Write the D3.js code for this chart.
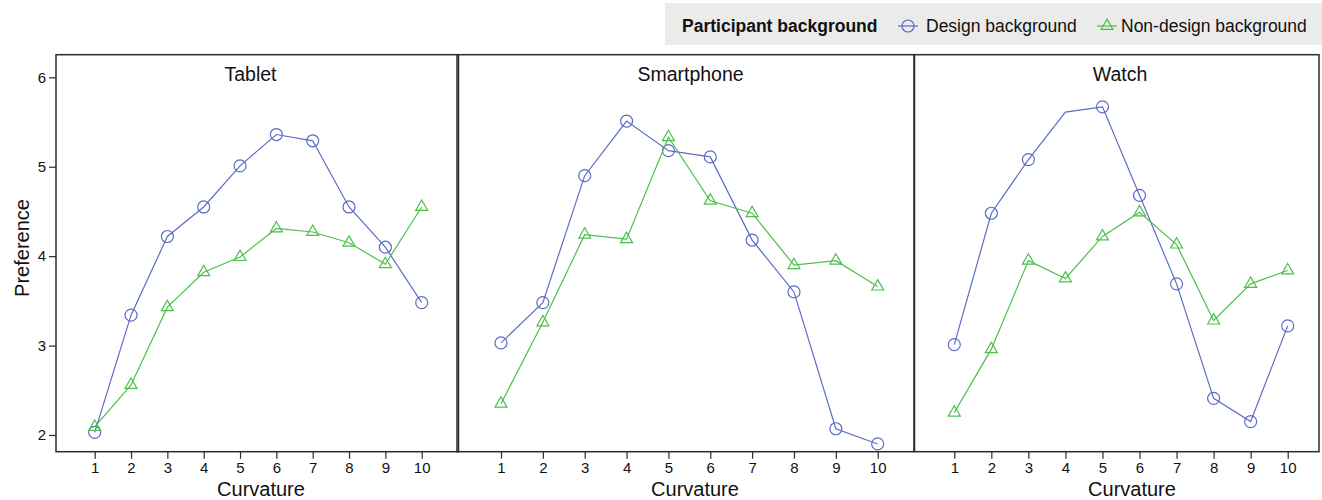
<!DOCTYPE html>
<html>
<head>
<meta charset="utf-8">
<script src="https://cdn.jsdelivr.net/npm/d3@7"></script>
<style>
  body { margin: 0; background: #fff; }
  svg { display: block; font-family: "Liberation Sans", Arial, sans-serif; }
</style>
</head>
<body>
<div id="chart"></div>
<script>
// data
const curvature = [1, 2, 3, 4, 5, 6, 7, 8, 9, 10];
const devices = ["Tablet", "Smartphone", "Watch"];
const yTicks = [2, 3, 4, 5, 6];

const tabletDesign    = [2.03, 3.34, 4.22, 4.55, 5.01, 5.36, 5.29, 4.55, 4.10, 3.48];
const tabletNonDesign = [2.09, 2.56, 3.43, 3.82, 3.99, 4.31, 4.27, 4.15, 3.91, 4.55];
const phoneDesign     = [3.03, 3.48, 4.90, 5.51, 5.18, 5.11, 4.18, 3.60, 2.07, 1.90];
const phoneNonDesign  = [2.35, 3.26, 4.24, 4.19, 5.33, 4.62, 4.48, 3.90, 3.95, 3.66];
const watchDesign     = [3.01, 4.48, 5.08, 5.61, 5.67, 4.68, 3.69, 2.41, 2.15, 3.22];
const watchNonDesign  = [2.25, 2.96, 3.95, 3.75, 4.22, 4.49, 4.13, 3.28, 3.69, 3.84];

// the reference has no marker on this point
const hiddenMarkers = [{ device: "Watch", series: "design", curvature: 4 }];

const seriesNames = ["Design background", "Non-design background"];
const values = {
  Tablet: { design: tabletDesign, nondesign: tabletNonDesign },
  Smartphone: { design: phoneDesign, nondesign: phoneNonDesign },
  Watch: { design: watchDesign, nondesign: watchNonDesign }
};

const blue = "#5b6cc6";
const green = "#4cc04c";
const frame = "#2b2b2b";

const width = 1322, height = 500;
const plotTop = 54.7, plotBottom = 451.7;

// panel frames and tick extents (layout)
const panels = [
  { x0: 56,    x1: 458.5, t1: 94.7,  t10: 421.7,  titleX: 250.5, labelX: 261 },
  { x0: 457,   x1: 914,   t1: 501,   t10: 877.7,  titleX: 690.5, labelX: 695 },
  { x0: 914.5, x1: 1319,  t1: 954.3, t10: 1287.7, titleX: 1120,  labelX: 1132 }
];

const svg = d3.select("#chart").append("svg")
    .attr("width", width)
    .attr("height", height);

const y = d3.scaleLinear().domain([2, 6]).range([435, 77.3]);

// legend
const leg = svg.append("g");
leg.append("rect")
    .attr("x", 665).attr("y", 3)
    .attr("width", width - 665).attr("height", 42)
    .attr("fill", "#ebebeb");
leg.append("text")
    .attr("x", 682).attr("y", 32)
    .attr("font-size", 17.5)
    .attr("font-weight", "bold")
    .attr("fill", "#111")
    .text("Participant background");

const legItems = [
  { cx: 908, tx: 926, color: blue, shape: "circle", label: seriesNames[0] },
  { cx: 1107, tx: 1121, color: green, shape: "triangle", label: seriesNames[1] }
];
legItems.forEach(d => {
  leg.append("line")
      .attr("x1", d.cx - 10).attr("x2", d.cx + 10)
      .attr("y1", 26).attr("y2", 26)
      .attr("stroke", d.color).attr("stroke-width", 1.2);
  if (d.shape === "circle") {
    leg.append("circle").attr("cx", d.cx).attr("cy", 26).attr("r", 6)
        .attr("fill", "none").attr("stroke", d.color).attr("stroke-width", 1.2);
  } else {
    leg.append("path")
        .attr("d", d3.symbol(d3.symbolTriangle, 62)())
        .attr("transform", `translate(${d.cx},26)`)
        .attr("fill", "none").attr("stroke", d.color).attr("stroke-width", 1.2);
  }
  leg.append("text")
      .attr("x", d.tx).attr("y", 32)
      .attr("font-size", 17.5)
      .attr("fill", "#111")
      .text(d.label);
});

// y axis (first panel only)
const yAxis = svg.append("g")
    .attr("transform", `translate(${panels[0].x0},0)`)
    .call(d3.axisLeft(y).tickValues(yTicks).tickSize(7).tickPadding(3).tickFormat(d3.format("d")))
    .attr("font-family", null)
    .attr("font-size", 15);
yAxis.select(".domain").remove();
yAxis.selectAll("line").attr("stroke", frame).attr("stroke-width", 1.2);
yAxis.selectAll("text").attr("fill", "#111");

svg.append("text")
    .attr("transform", `translate(29,248) rotate(-90)`)
    .attr("text-anchor", "middle")
    .attr("font-size", 20)
    .attr("fill", "#111")
    .text("Preference");

const line = d3.line();

devices.forEach((dev, i) => {
  const p = panels[i];
  const x = d3.scaleLinear().domain([1, 10]).range([p.t1, p.t10]);
  const g = svg.append("g");

  // frame
  g.append("rect")
      .attr("x", p.x0).attr("y", plotTop)
      .attr("width", p.x1 - p.x0).attr("height", plotBottom - plotTop)
      .attr("fill", "none")
      .attr("stroke", frame).attr("stroke-width", 1.5);

  g.append("text")
      .attr("x", p.titleX)
      .attr("y", 81)
      .attr("text-anchor", "middle")
      .attr("font-size", 19.5)
      .attr("fill", "#111")
      .text(dev);

  const xAxis = g.append("g")
      .attr("transform", `translate(0,${plotBottom})`)
      .call(d3.axisBottom(x).tickValues(curvature).tickSize(7).tickPadding(4).tickFormat(d3.format("d")))
      .attr("font-family", null)
      .attr("font-size", 15);
  xAxis.select(".domain").remove();
  xAxis.selectAll("line").attr("stroke", frame).attr("stroke-width", 1.2);
  xAxis.selectAll("text").attr("fill", "#111");

  g.append("text")
      .attr("x", p.labelX).attr("y", 496)
      .attr("text-anchor", "middle")
      .attr("font-size", 20)
      .attr("fill", "#111")
      .text("Curvature");

  [["design", blue], ["nondesign", green]].forEach(([key, color]) => {
    const pts = curvature.map((c, j) => [x(c), y(values[dev][key][j])]);
    g.append("path")
        .attr("d", line(pts))
        .attr("fill", "none")
        .attr("stroke", color)
        .attr("stroke-width", 1.2);

    const shown = curvature.map((c, j) => ({ c, v: values[dev][key][j] }))
        .filter(d => !hiddenMarkers.some(h => h.device === dev && h.series === key && h.curvature === d.c));

    if (key === "design") {
      g.selectAll(null).data(shown).join("circle")
          .attr("cx", d => x(d.c)).attr("cy", d => y(d.v)).attr("r", 6)
          .attr("fill", "none").attr("stroke", color).attr("stroke-width", 1.2);
    } else {
      g.selectAll(null).data(shown).join("path")
          .attr("d", d3.symbol(d3.symbolTriangle, 62)())
          .attr("transform", d => `translate(${x(d.c)},${y(d.v)})`)
          .attr("fill", "none").attr("stroke", color).attr("stroke-width", 1.2);
    }
  });
});
</script>
</body>
</html>
